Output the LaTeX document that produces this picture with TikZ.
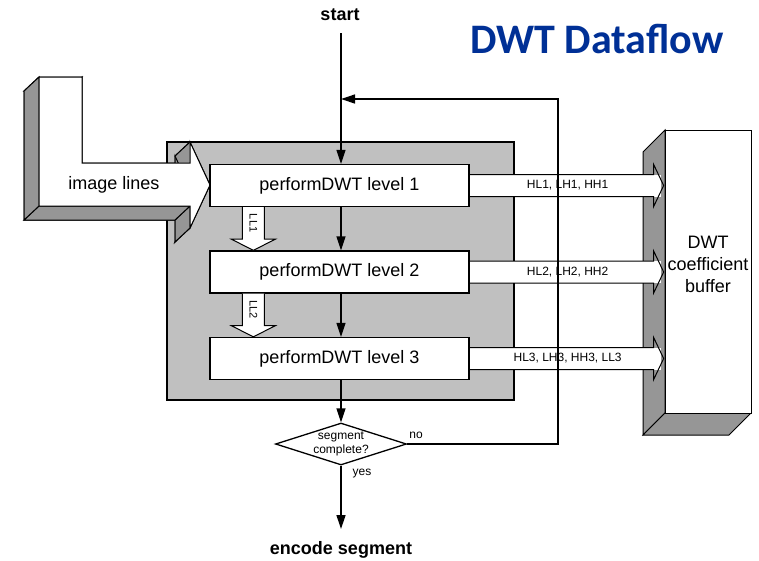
\documentclass[tikz,border=0pt]{standalone}
\usepackage{fontspec}
\setmainfont{Liberation Sans}
\newfontfamily\titlefont{Carlito}
\usetikzlibrary{calc,shapes.geometric,arrows.meta}
\definecolor{boxgray}{RGB}{192,192,192}
\definecolor{sidegray}{RGB}{150,150,150}
\definecolor{titleblue}{RGB}{0,48,150}
\tikzset{
  lvl/.style={draw,fill=white,minimum width=259pt,minimum height=42pt,inner sep=0pt,font=\fontsize{18}{20}\selectfont},
  arr/.style={-{Triangle[length=14pt,width=9pt]}},
  side/.style={fill=sidegray,draw=black,line width=1pt},
  small/.style={font=\fontsize{12}{13}\selectfont,inner sep=0pt},
  lbl/.style={font=\fontsize{18}{22}\selectfont,inner sep=0pt},
}
\begin{document}
\begin{tikzpicture}[x=1pt,y=-1pt,line width=1.3pt,line join=miter]
\useasboundingbox (0,0) rectangle (759,560);
\fill[white] (0,0) rectangle (759,560);

% gray container
\filldraw[fill=boxgray,draw=black] (167,142) rectangle (514,400);

% image lines 3D arrow
\filldraw[side,shift={(-15,14)}] (39,77) -- (82,77) -- (82,163) -- (190,163) -- (190,142) -- (210,185) -- (190,228) -- (190,206) -- (39,206) -- cycle;
\foreach \ax/\ay/\bx/\by in {39/77/82/77, 82/77/82/163, 82/163/190/163, 190/163/190/142, 190/142/210/185, 210/185/190/228, 190/228/190/206, 190/206/39/206, 39/206/39/77}
  \filldraw[side] (\ax,\ay) -- (\bx,\by) -- (\bx-15,\by+14) -- (\ax-15,\ay+14) -- cycle;
\filldraw[fill=white,draw=black,line width=1pt] (39,77) -- (82,77) -- (82,163) -- (190,163) -- (190,142) -- (210,185) -- (190,228) -- (190,206) -- (39,206) -- cycle;
\node[lbl] (imgl) at (114,185) {image lines};

% buffer 3D box
\filldraw[side] (665,130) -- (643,152) -- (643,435) -- (665,413) -- cycle;
\filldraw[side] (643,435) -- (729,435) -- (751,413) -- (665,413) -- cycle;
\node[draw,fill=white,line width=1pt,minimum width=86pt,minimum height=283pt,inner sep=0pt,anchor=north west] (buf) at (665,130) {};
\node[lbl,align=center,font=\fontsize{18}{22}\selectfont] (buft) at (708,264) {DWT\\coefficient\\buffer};

% level boxes
\node[lvl] (l1) at (339.5,185.5) {performDWT level 1};
\node[lvl] (l2) at (339.5,272) {performDWT level 2};
\node[lvl] (l3) at (339.5,358.5) {performDWT level 3};

% output hollow arrows
\foreach \n/\t in {l1/{HL1, LH1, HH1},l2/{HL2, LH2, HH2},l3/{HL3, LH3, HH3, LL3}}{
  \fill[white] ($(\n.east)+(0,-11)$) rectangle ($(\n.east)+(191,11)$);
  \draw[line width=1pt] ($(\n.east)+(0,-11)$) -- ++(184,0) -- ++(0,-10) -- ++(10,21) -- ++(-10,21) -- ++(0,-10) -- ($(\n.east)+(0,11)$);
  \node[small] at ($(\n.east)+(98,0)$) {\t};
}

% LL hollow arrows between levels
\foreach \u/\v/\t in {l1/l2/LL1,l2/l3/LL2}{
  \filldraw[fill=white,draw=black,line width=1pt] ($(\u.south west)+(33,0)$) -- ($(\u.south west)+(33,32)$) -- ($(\u.south west)+(22,32)$) -- ($(\v.north west)+(44,0)$) -- ($(\u.south west)+(66,32)$) -- ($(\u.south west)+(55,32)$) -- ($(\u.south west)+(55,0)$);
  \node[small,rotate=-90,font=\fontsize{11}{12}\selectfont] at ($(\u.south west)+(44,16)$) {\t};
}

% main flow
\node[font=\bfseries\fontsize{18}{20}\selectfont,inner sep=0pt] (start) at (340,15) {start};
\coordinate (sTop) at (341,33);
\coordinate (join) at (341,99);
\draw[arr] (sTop) -- (l1.north -| sTop);
\draw[arr] (l1.south -| sTop) -- (l2.north -| sTop);
\draw[arr] (l2.south -| sTop) -- (l3.north -| sTop);

\node[draw,diamond,minimum width=131pt,minimum height=42pt,inner sep=0pt,fill=white] (dia) at (341,444) {};
\node[small,align=center,font=\fontsize{12}{14}\selectfont] at (341,444) {segment\\complete?};
\draw[arr] (l3.south -| sTop) -- (dia.north);

\coordinate (nc) at (558,444);
\coordinate (nt) at (558,99);
\draw[arr] (dia.east) -- (nc) -- (nt) -- (join);
\node[small] (no) at (416,435) {no};
\node[small] (yes) at (362,474) {yes};

\node[font=\bfseries\fontsize{18}{20}\selectfont,inner sep=0pt] (enc) at (341,550) {encode segment};
\coordinate (eTop) at (341,529);
\draw[arr] (dia.south) -- (eTop);

% title
\node[font=\titlefont\bfseries\fontsize{42}{44}\selectfont,text=titleblue,anchor=base,inner sep=0pt] (title) at (597,53) {DWT Dataflow};
\end{tikzpicture}
\end{document}
